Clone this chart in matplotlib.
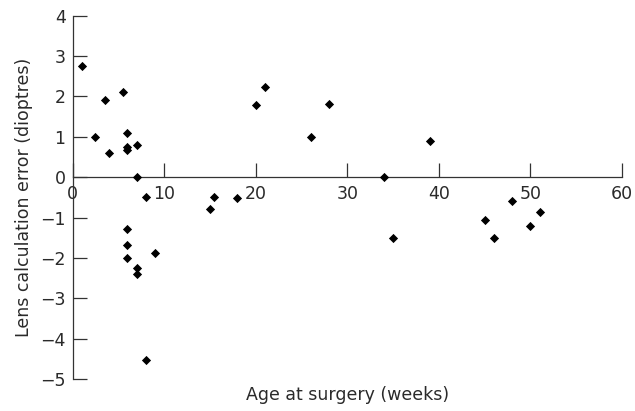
import matplotlib
matplotlib.use("Agg")
import matplotlib.pyplot as plt

# Data
age_weeks = [1, 2.5, 3.5, 4, 5.5, 6, 6, 6, 7, 7, 8, 6, 6, 6, 7, 7, 9, 8,
             15, 15.5, 18, 20, 21, 26, 28, 34, 35, 39, 45, 46, 48, 50, 51]
lens_error = [2.75, 1.0, 1.9, 0.6, 2.1, 1.1, 0.75, 0.68, 0.8, 0.0, -0.5,
              -1.28, -1.68, -2.0, -2.25, -2.4, -1.87, -4.53,
              -0.78, -0.5, -0.52, 1.8, 2.24, 1.0, 1.82, 0.0, -1.5, 0.9,
              -1.07, -1.5, -0.6, -1.2, -0.86]

x_ticks = [0, 10, 20, 30, 40, 50, 60]
y_ticks = [-5, -4, -3, -2, -1, 0, 1, 2, 3, 4]

TEXT = "#2a2a2a"
LINE = "#333333"

plt.rcParams['font.family'] = ['DejaVu Sans']

fig = plt.figure(figsize=(6.35, 4.11), dpi=100)
ax = fig.add_axes([0.1142, 0.0779, 0.8654, 0.8839])

ax.scatter(age_weeks, lens_error, marker='D', s=22, color='black',
           linewidths=0, zorder=3, clip_on=False)

ax.set_xlim(0, 60)
ax.set_ylim(-5, 4)
ax.set_xticks(x_ticks)
ax.set_yticks(y_ticks)
ax.set_yticklabels([f"{t}".replace('-', '\u2212') for t in y_ticks])

# axis lines: y from -5 to 4, x axis through zero
ax.spines['top'].set_visible(False)
ax.spines['right'].set_visible(False)
ax.spines['bottom'].set_position(('data', 0))
for side in ['left', 'bottom']:
    ax.spines[side].set_color(LINE)
    ax.spines[side].set_linewidth(0.9)

ax.tick_params(axis='both', direction='in', length=10, width=0.9,
               color=LINE, labelcolor=TEXT, labelsize=12.5)
ax.tick_params(axis='x', pad=6)
ax.tick_params(axis='y', pad=5)

ax.set_xlabel('Age at surgery (weeks)', fontsize=12.5, color=TEXT)
ax.xaxis.set_label_coords(0.5, -0.02)
ax.set_ylabel('Lens calculation error (dioptres)', fontsize=12.5, color=TEXT)
ax.yaxis.set_label_coords(-0.072, 0.5)

fig.savefig('out.png', dpi=100)
